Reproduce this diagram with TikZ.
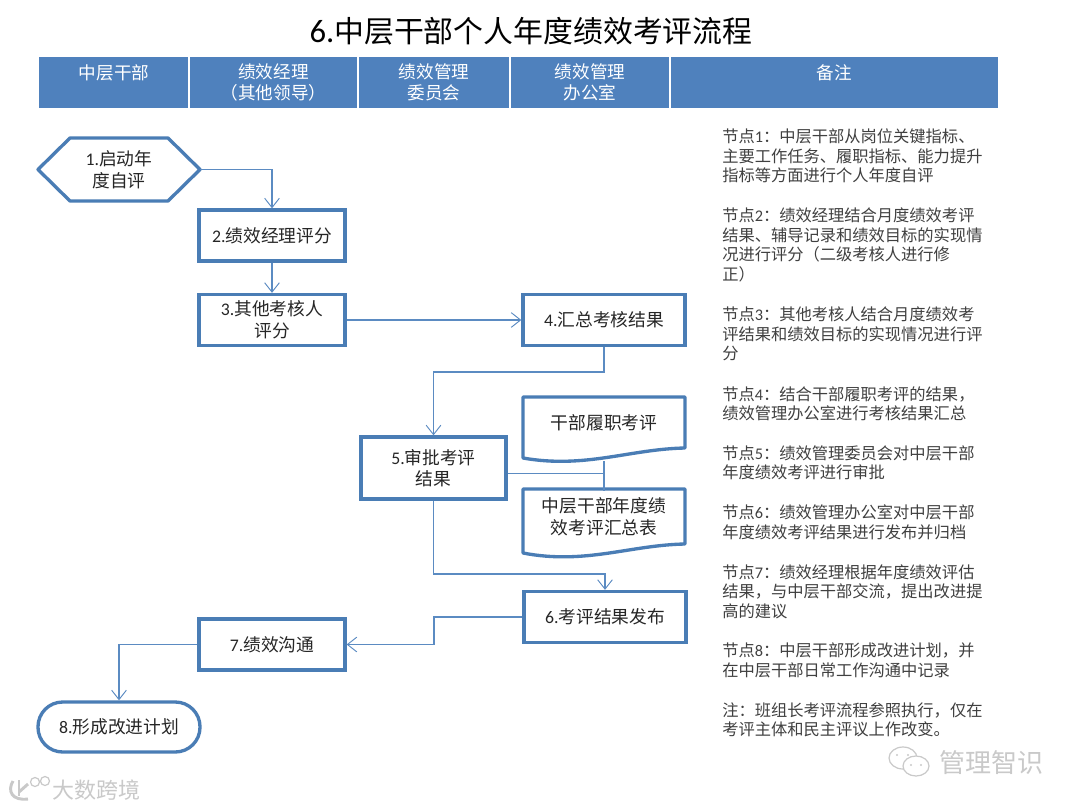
\documentclass[tikz,border=0pt]{standalone}
\usepackage{fontspec}
\setmainfont{Noto Sans CJK SC}
\newfontfamily\lat{Carlito}
\usetikzlibrary{arrows.meta}
\definecolor{hdrblue}{HTML}{4F81BD}
\definecolor{edgeblue}{HTML}{4A7DB5}
\definecolor{wireblue}{HTML}{5B8BC2}
\definecolor{ink}{HTML}{262626}
\definecolor{noteink}{HTML}{404040}
\definecolor{wmgray}{HTML}{C9C9C9}
\tikzset{
  hcell/.style={text=white,minimum height=38.25pt,font=\fontsize{13.2pt}{16.2pt}\selectfont,align=center,anchor=north west,inner sep=0pt,outer sep=0pt},
  stepbox/.style={draw=edgeblue,line width=2.5pt,fill=white,align=center,inner sep=0pt,font=\fontsize{13.3pt}{16.2pt}\selectfont,text=ink},
  shapetext/.style={align=center,inner sep=0pt,font=\fontsize{13.3pt}{16.2pt}\selectfont,text=ink},
  outline/.style={draw=edgeblue,line width=2.5pt,line join=round,fill=white},
  wired/.style={draw=wireblue,line width=.85pt,-{Straight Barb[length=7pt,width=11pt,line width=.7pt]}},
  plainwire/.style={draw=wireblue,line width=.85pt},
  notes/.style={anchor=north west,align=left,inner sep=0pt,text=noteink,font=\fontsize{12.2pt}{14.7pt}\selectfont},
  markicon/.style={draw=wmgray,line width=.9pt},
  divider/.style={draw=white,line width=.9pt}
}
\begin{document}
\begin{tikzpicture}[x=0.75pt,y=-0.75pt]
\useasboundingbox (0,0) rectangle (1080,810);
\fill[white] (0,0) rectangle (1080,810);

\node[inner sep=0pt,text=black,font=\fontsize{22.4pt}{26pt}\selectfont] (title) at (531,31) {{\lat\fontsize{24.5pt}{26pt}\selectfont 6.}中层干部个人年度绩效考评流程};

% header band
\fill[hdrblue] (39,57) rectangle (998,108);
\node[hcell,minimum width=150*0.75pt] (h1) at (39,57) {中层干部\\\mbox{}};
\node[hcell,minimum width=169*0.75pt] (h2) at (189,57) {绩效经理\\（其他领导）};
\node[hcell,minimum width=152*0.75pt] (h3) at (358,57) {绩效管理\\委员会};
\node[hcell,minimum width=160*0.75pt] (h4) at (510,57) {绩效管理\\办公室};
\node[hcell,minimum width=328*0.75pt] (h5) at (670,57) {备注\\\mbox{}};
\draw[divider] (h1.north east) -- (h1.south east);
\draw[divider] (h2.north east) -- (h2.south east);
\draw[divider] (h3.north east) -- (h3.south east);
\draw[divider] (h4.north east) -- (h4.south east);

% shapes: hexagon, documents and terminator
\draw[outline] (38,169.5) -- (70,138) -- (168,138) -- (200,169.5) -- (168,201) -- (70,201) -- cycle;
\node[shapetext,minimum width=162*0.75pt,minimum height=63*0.75pt] (n1) at (119,169.5) {{\lat 1.}启动年\\度自评};
\node[stepbox,minimum width=146*0.75pt,minimum height=51*0.75pt] (n2) at (272,235.5) {{\lat 2.}绩效经理评分};
\node[stepbox,minimum width=146*0.75pt,minimum height=51*0.75pt] (n3) at (272,320) {{\lat 3.}其他考核人\\评分};
\node[stepbox,minimum width=162*0.75pt,minimum height=51*0.75pt] (n4) at (604,320) {{\lat 4.}汇总考核结果};
\node[stepbox,minimum width=145*0.75pt,minimum height=62*0.75pt] (n5) at (433.5,468) {{\lat 5.}审批考评\\结果};
\node[stepbox,minimum width=162*0.75pt,minimum height=51*0.75pt] (n6) at (605,617) {{\lat 6.}考评结果发布};
\node[stepbox,minimum width=146*0.75pt,minimum height=51*0.75pt] (n7) at (272,644.5) {{\lat 7.}绩效沟通};
\node[stepbox,minimum width=162*0.75pt,minimum height=50*0.75pt,rounded corners=18.5pt] (n8) at (119,727) {{\lat 8.}形成改进计划};

% documents
\draw[outline] (523,397) -- (685,397) -- (685,448) .. controls (630,449) and (585,469) .. (523,458) -- cycle;
\node[shapetext,minimum width=162*0.75pt,minimum height=50*0.75pt] (d1) at (604,422.5) {干部履职考评};
\draw[outline] (523,489) -- (685,489) -- (685,544) .. controls (630,545) and (585,565) .. (523,553) -- cycle;
\node[shapetext,minimum width=162*0.75pt,minimum height=52*0.75pt] (d2) at (604,517) {中层干部年度绩\\效考评汇总表};

\coordinate (d1low) at (604,461);
\draw[plainwire] (d1low) -- (d2.north);
\draw[plainwire] (n5.east |- 0,473.5) -- (604,473.5);

\draw[wired] (n1.east) -| (n2.north);
\draw[wired] (n2.south) -- (n3.north);
\draw[wired] (n3.east) -- (n4.west);
\draw[wired] (n4.south) -- (604,372) -| (n5.north);
\draw[wired] (n5.south) -- (433.5,574) -| (n6.north);
\draw[wired] (n6.west) -- (434,617) -- (434,644.5) -- (n7.east);
\draw[wired] (n7.west) -| (n8.north);

% notes
\node[notes] (p1) at (722,128.5) {节点{\lat 1}：中层干部从岗位关键指标、\\主要工作任务、履职指标、能力提升\\指标等方面进行个人年度自评};
\node[notes] (p2) at (722,207.5) {节点{\lat 2}：绩效经理结合月度绩效考评\\结果、辅导记录和绩效目标的实现情\\况进行评分（二级考核人进行修\\正）};
\node[notes] (p3) at (722,306.5) {节点{\lat 3}：其他考核人结合月度绩效考\\评结果和绩效目标的实现情况进行评\\分};
\node[notes] (p4) at (722,386) {节点{\lat 4}：结合干部履职考评的结果，\\绩效管理办公室进行考核结果汇总};
\node[notes] (p5) at (722,445) {节点{\lat 5}：绩效管理委员会对中层干部\\年度绩效考评进行审批};
\node[notes] (p6) at (722,504.5) {节点{\lat 6}：绩效管理办公室对中层干部\\年度绩效考评结果进行发布并归档};
\node[notes] (p7) at (722,564) {节点{\lat 7}：绩效经理根据年度绩效评估\\结果，与中层干部交流，提出改进提\\高的建议};
\node[notes] (p8) at (722,642.5) {节点{\lat 8}：中层干部形成改进计划，并\\在中层干部日常工作沟通中记录};
\node[notes] (p9) at (722,702) {注：班组长考评流程参照执行，仅在\\考评主体和民主评议上作改变。};

% watermarks
\node[inner sep=0pt,text=wmgray,font=\fontsize{19.5pt}{22pt}\selectfont] (wm1) at (991,763) {管理智识};
\draw[markicon] (903,758) ellipse (14 and 11);
\draw[markicon,fill=white] (916,766) ellipse (13 and 10);
\fill[wmgray] (897,755) circle (1.2) (908,755) circle (1.2) (911,765) circle (1.2) (921,765) circle (1.2);
\node[inner sep=0pt,text=wmgray,font=\fontsize{16.5pt}{19pt}\selectfont] (wm2) at (96,790) {大数跨境};
\draw[wmgray,line width=2.2pt] (13,781) .. controls (7,791) and (12,801) .. (28,799);
\draw[wmgray,line width=2.2pt] (19,780) -- (19,796);
\draw[wmgray,line width=2.2pt] (19,792) -- (28,784);
\draw[markicon] (35,782) circle (4.5) (45,781) circle (4.5);
\end{tikzpicture}
\end{document}
